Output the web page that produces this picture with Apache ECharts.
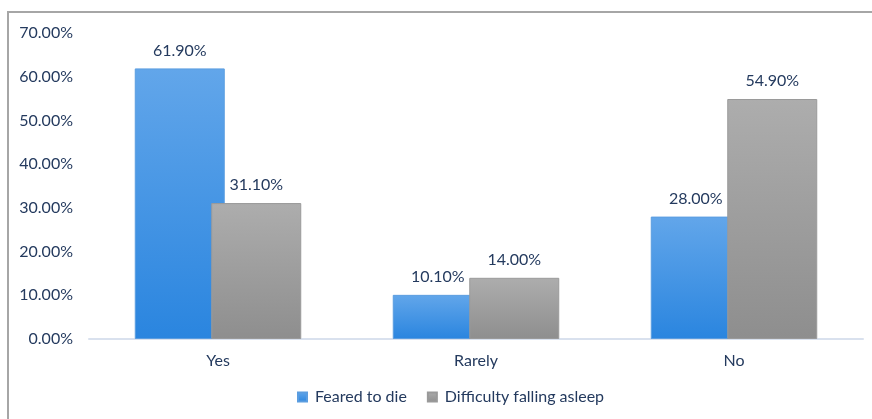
<!DOCTYPE html>
<html>
<head>
<meta charset="utf-8">
<script src="https://cdn.jsdelivr.net/npm/echarts@6/dist/echarts.min.js"></script>
<style>
  html, body { margin: 0; padding: 0; background: #fff; }
  #chart { width: 872px; height: 419px; }
</style>
</head>
<body>
<div id="chart"></div>
<script>
// Responses per category (percent)
const categories = ['Yes', 'Rarely', 'No'];
const fearedToDie = [61.9, 10.1, 28.0];
const difficultyFallingAsleep = [31.1, 14.0, 54.9];
const seriesNames = ['Feared to die', 'Difficulty falling asleep'];

const textColor = '#243a5e';
const fontFamily = 'Lato, "Liberation Sans", sans-serif';
const fontSize = 16;

const chart = echarts.init(document.getElementById('chart'));

function grad(top, bottom) {
  return new echarts.graphic.LinearGradient(0, 0, 0, 1, [
    { offset: 0, color: top },
    { offset: 1, color: bottom }
  ]);
}

const labelCfg = {
  show: true,
  position: 'top',
  distance: 10,
  color: textColor,
  fontFamily: fontFamily,
  fontSize: fontSize,
  formatter: p => p.value.toFixed(2) + '%'
};

chart.setOption({
  animation: false,
  backgroundColor: '#fff',
  graphic: [{
    type: 'rect',
    shape: { x: 8, y: 12, width: 900, height: 440 },
    style: { fill: 'none', stroke: '#a6a6a6', lineWidth: 2 },
    silent: true,
    z: -1
  }],
  grid: { left: 89, right: 9, top: 33, bottom: 80, containLabel: false },
  legend: {
    bottom: 9,
    left: 292,
    itemWidth: 9,
    itemHeight: 9,
    itemGap: 20,
    icon: 'rect',
    textStyle: { color: textColor, fontFamily: fontFamily, fontSize: fontSize, padding: [0, 0, 0, 3] },
    data: seriesNames
  },
  xAxis: {
    type: 'category',
    data: categories,
    axisLine: { lineStyle: { color: '#d9e1ee', width: 2 } },
    axisTick: { show: false },
    axisLabel: { color: textColor, fontFamily: fontFamily, fontSize: fontSize, margin: 14 }
  },
  yAxis: {
    type: 'value',
    min: 0,
    max: 70,
    interval: 10,
    splitLine: { show: false },
    axisLine: { show: false },
    axisTick: { show: false },
    axisLabel: {
      color: textColor, fontFamily: fontFamily, fontSize: fontSize, margin: 16,
      formatter: v => v.toFixed(2) + '%'
    }
  },
  series: [
    {
      name: seriesNames[0],
      type: 'bar',
      data: fearedToDie,
      barWidth: 90,
      barGap: '-15%',
      itemStyle: { color: grad('#62a6ea', '#2a85df'), borderColor: '#5b9de0', borderWidth: 1 },
      label: labelCfg
    },
    {
      name: seriesNames[1],
      type: 'bar',
      data: difficultyFallingAsleep,
      barWidth: 90,
      itemStyle: { color: grad('#adadad', '#8e8e8e'), borderColor: '#9a9a9a', borderWidth: 1 },
      label: labelCfg
    }
  ]
});
</script>
</body>
</html>
